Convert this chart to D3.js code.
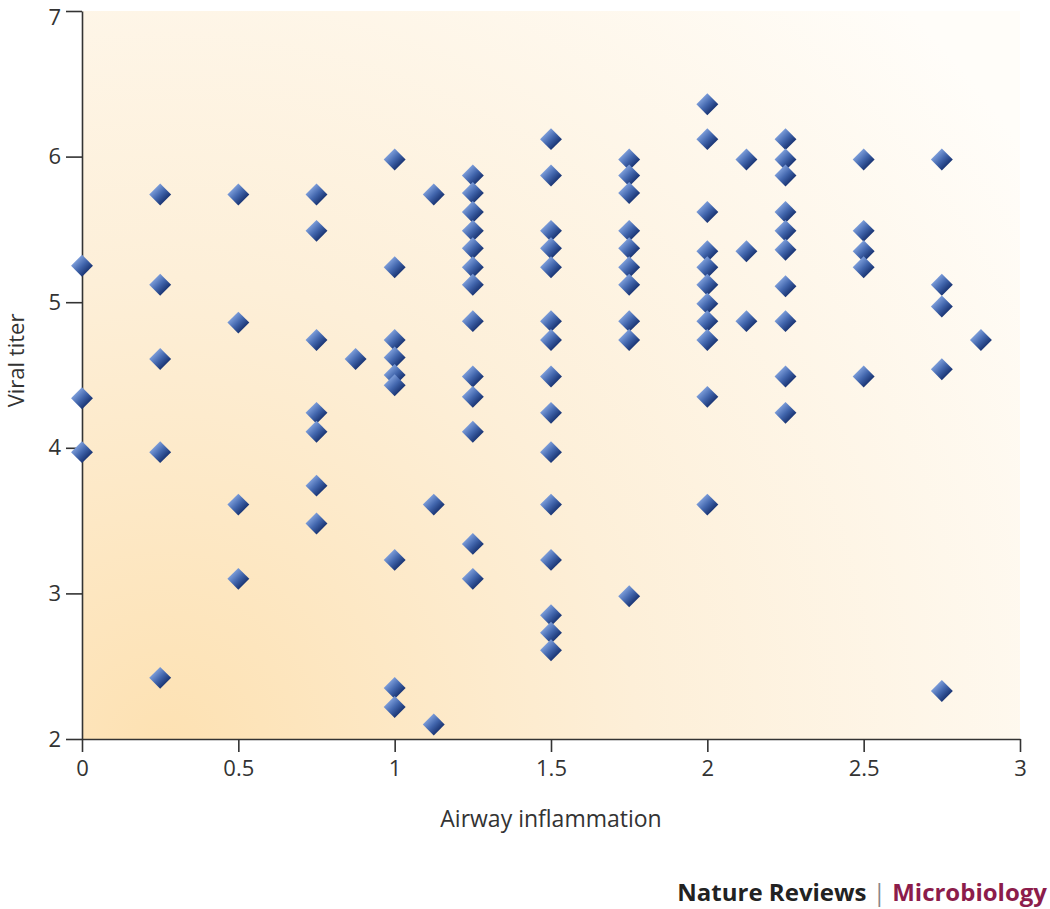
<!DOCTYPE html>
<html>
<head>
<meta charset="utf-8">
<script src="https://cdn.jsdelivr.net/npm/d3@7"></script>
<style>
  body { margin: 0; background: #fff; }
  text { font-family: "Open Sans", sans-serif; }
</style>
</head>
<body>
<div id="my_dataviz"></div>
<script>
// airway inflammation score for each column of points
const inflammation = [0, 0.25, 0.5, 0.75, 0.875, 1, 1.125, 1.25, 1.5, 1.75, 2, 2.125, 2.25, 2.5, 2.75, 2.875];

const titers = [
  [5.25, 4.34, 3.97],
  [5.74, 5.12, 4.61, 3.97, 2.42],
  [5.74, 4.86, 3.61, 3.10],
  [5.74, 5.49, 4.74, 4.24, 4.11, 3.74, 3.48],
  [4.61],
  [5.98, 5.24, 4.74, 4.62, 4.50, 4.43, 3.23, 2.35, 2.22],
  [5.74, 3.61, 2.10],
  [5.87, 5.75, 5.62, 5.49, 5.37, 5.24, 5.12, 4.87, 4.49, 4.35, 4.11, 3.34, 3.10],
  [6.12, 5.87, 5.49, 5.37, 5.24, 4.87, 4.74, 4.49, 4.24, 3.97, 3.61, 3.23, 2.85, 2.73, 2.61],
  [5.98, 5.87, 5.75, 5.49, 5.37, 5.24, 5.12, 4.87, 4.74, 2.98],
  [6.36, 6.12, 5.62, 5.35, 5.24, 5.12, 4.99, 4.87, 4.74, 4.35, 3.61],
  [5.98, 5.35, 4.87],
  [6.12, 5.98, 5.87, 5.62, 5.49, 5.36, 5.11, 4.87, 4.49, 4.24],
  [5.98, 5.49, 5.35, 5.24, 4.49],
  [5.98, 5.12, 4.97, 4.54, 2.33],
  [4.74]
];

const xTicks = [0, 0.5, 1, 1.5, 2, 2.5, 3];
const yTicks = [2, 3, 4, 5, 6, 7];

const points = [];
inflammation.forEach((s, i) => titers[i].forEach(t => points.push({x: s, y: t})));

// set the dimensions and margins of the graph
const margin = {top: 11, right: 30, bottom: 170, left: 82},
  width = 1050 - margin.left - margin.right,
  height = 909 - margin.top - margin.bottom;

const svgRoot = d3.select("#my_dataviz")
  .append("svg")
  .attr("width", 1050)
  .attr("height", 909);

const defs = svgRoot.append("defs");

// warm background fading to white towards the top right
const bg = defs.append("radialGradient")
  .attr("id", "bgGrad")
  .attr("gradientUnits", "userSpaceOnUse")
  .attr("cx", margin.left)
  .attr("cy", margin.top + height)
  .attr("r", 1050);
bg.append("stop").attr("offset", "0%").attr("stop-color", "#fde1b2");
bg.append("stop").attr("offset", "45%").attr("stop-color", "#fdefd8");
bg.append("stop").attr("offset", "100%").attr("stop-color", "#fffdf9");

// shading of the diamond markers
const dg = defs.append("linearGradient")
  .attr("id", "dotGrad")
  .attr("x1", 0).attr("y1", 0)
  .attr("x2", 1).attr("y2", 0);
dg.append("stop").attr("offset", "0%").attr("stop-color", "#7a9bd8");
dg.append("stop").attr("offset", "50%").attr("stop-color", "#4266ad");
dg.append("stop").attr("offset", "100%").attr("stop-color", "#1a3574");

const svg = svgRoot.append("g")
  .attr("transform", `translate(${margin.left},${margin.top})`);

svg.append("rect")
  .attr("width", width)
  .attr("height", height)
  .attr("fill", "url(#bgGrad)");

// X axis
const x = d3.scaleLinear()
  .domain([0, 3])
  .range([0, width]);

const xAxis = svg.append("g")
  .attr("transform", `translate(0, ${height})`)
  .call(d3.axisBottom(x).tickValues(xTicks).tickFormat(d3.format("")).tickSize(13).tickSizeOuter(0));

// Y axis
const y = d3.scaleLinear()
  .domain([2, 7])
  .range([height, 0]);

const yAxis = svg.append("g")
  .call(d3.axisLeft(y).tickValues(yTicks).tickFormat(d3.format("d")).tickSize(16).tickSizeOuter(0));

[xAxis, yAxis].forEach(a => {
  a.select(".domain").attr("stroke", "#333").attr("stroke-width", 1.6);
  a.selectAll(".tick line").attr("stroke", "#333").attr("stroke-width", 1.6);
  a.selectAll(".tick text")
    .attr("fill", "#333")
    .style("font-size", "22px")
    .style("font-family", "'Open Sans', sans-serif");
});
xAxis.selectAll(".tick text").attr("dy", "0.95em");
yAxis.selectAll(".tick text").attr("x", -21);
// keep the top label inside the page
yAxis.selectAll(".tick text").filter(d => d === 7).attr("dy", "0.6em");

// axis labels
svg.append("text")
  .attr("x", width / 2)
  .attr("y", height + 88)
  .attr("text-anchor", "middle")
  .attr("fill", "#333")
  .style("font-size", "23px")
  .text("Airway inflammation");

svg.append("text")
  .attr("transform", "rotate(-90)")
  .attr("x", -(y(4.6)))
  .attr("y", -margin.left + 24)
  .attr("text-anchor", "middle")
  .attr("fill", "#333")
  .style("font-size", "22px")
  .text("Viral titer");

// diamonds
svg.selectAll("path.dot")
  .data(points)
  .join("path")
    .attr("class", "dot")
    .attr("d", d3.symbol(d3.symbolSquare, 240))
    .attr("transform", d => `translate(${x(d.x)},${y(d.y)}) rotate(45)`)
    .attr("fill", "url(#dotGrad)")
  .append("title")
    .text(d => `${d.x}: ${d.y}`);

// journal credit
const credit = svgRoot.append("text")
  .attr("x", 1047)
  .attr("y", 901)
  .attr("text-anchor", "end")
  .style("font-size", "24px")
  .style("font-weight", "bold");
credit.append("tspan").attr("fill", "#222").text("Nature Reviews ");
credit.append("tspan").attr("fill", "#888").style("font-weight", "normal").text("|");
credit.append("tspan").attr("fill", "#8c1c4b").text(" Microbiology");
</script>
</body>
</html>
